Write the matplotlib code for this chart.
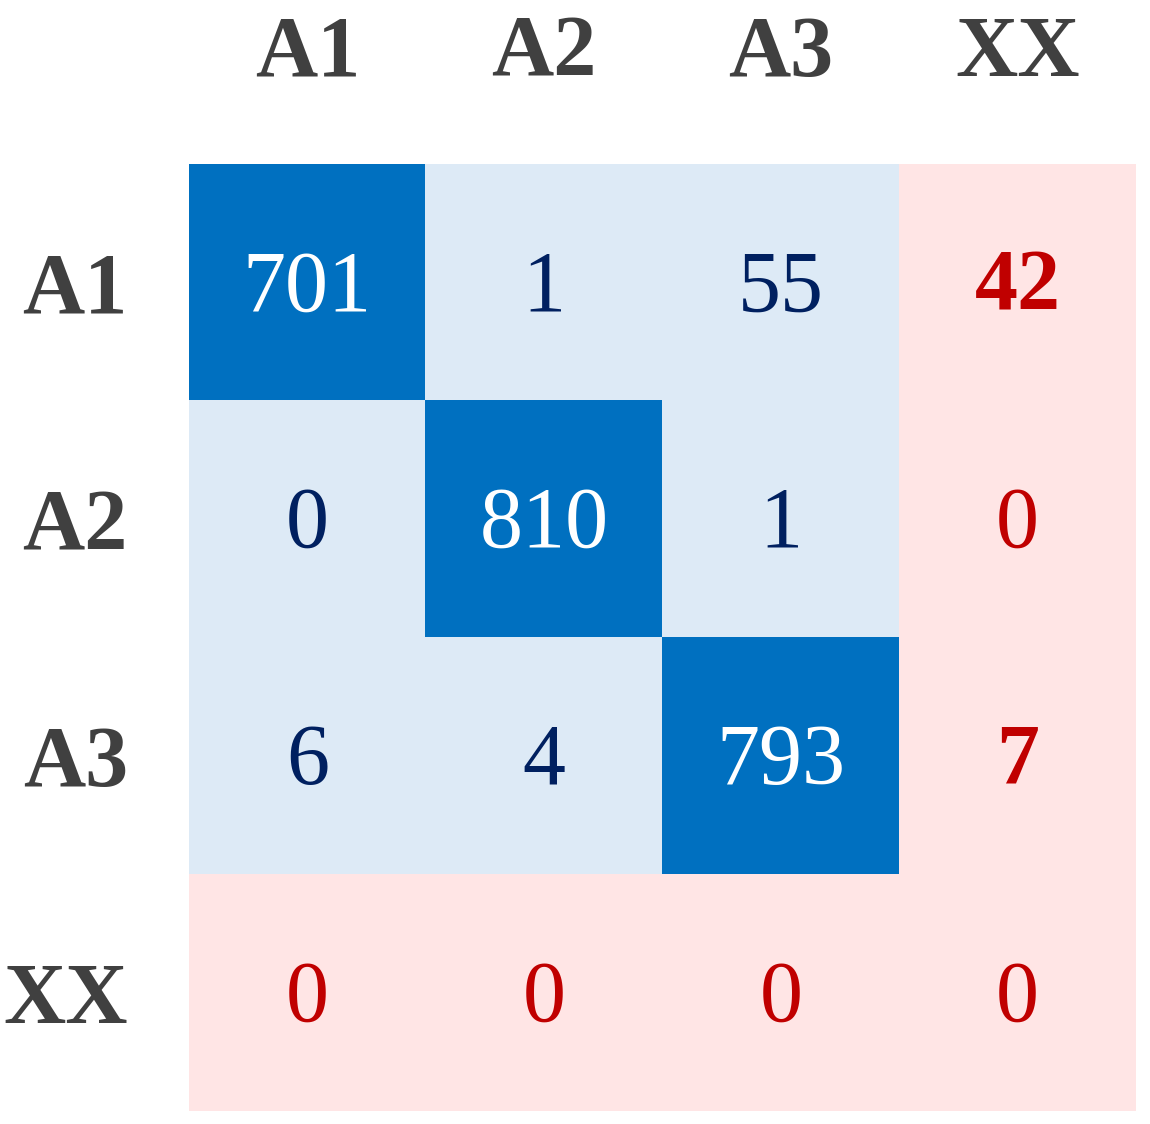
import numpy as np
import matplotlib
matplotlib.use('Agg')
import matplotlib.pyplot as plt
from matplotlib.colors import ListedColormap

labels = ['A1', 'A2', 'A3', 'XX']
counts = np.array([
	[701, 1, 55, 42],
	[0, 810, 1, 0],
	[6, 4, 793, 7],
	[0, 0, 0, 0],
])

plt.rcParams['font.family'] = ['Liberation Serif', 'DejaVu Serif']

n = len(labels)
# 0 = off-diagonal, 1 = diagonal, 2 = unknown class (XX)
kind = np.zeros((n, n), dtype=int)
kind[np.arange(n - 1), np.arange(n - 1)] = 1
kind[-1, :] = 2
kind[:, -1] = 2
cmap = ListedColormap(['#DDEAF6', '#0070C0', '#FFE5E5'])

fig = plt.figure(figsize=(11.5, 11.24), dpi=100)
ax = fig.add_axes([189 / 1150, 13 / 1124, 947 / 1150, 947 / 1124])
ax.imshow(kind, cmap=cmap, vmin=0, vmax=2, aspect='auto')

for i in range(n):
	for j in range(n):
		v = counts[i, j]
		if kind[i, j] == 1:
			color, weight = 'white', 'normal'
		elif kind[i, j] == 2:
			color = '#C00000'
			weight = 'bold' if v > 0 else 'normal'
		else:
			color, weight = '#002060', 'normal'
		ax.text(j, i + 0.03, str(v), ha='center', va='center', fontsize=62,
				color=color, fontweight=weight)

ax.set_xticks(range(n))
ax.set_yticks(range(n))
ax.set_xticklabels(labels)
ax.set_yticklabels(labels)
ax.xaxis.tick_top()
ax.tick_params(length=0, labelsize=62, labelcolor='#404040')
ax.tick_params(axis='x', pad=50)
ax.tick_params(axis='y', pad=44)
for t in ax.get_xticklabels() + ax.get_yticklabels():
	t.set_fontweight('bold')
for s in ax.spines.values():
	s.set_visible(False)

fig.savefig('out.png', dpi=100)
